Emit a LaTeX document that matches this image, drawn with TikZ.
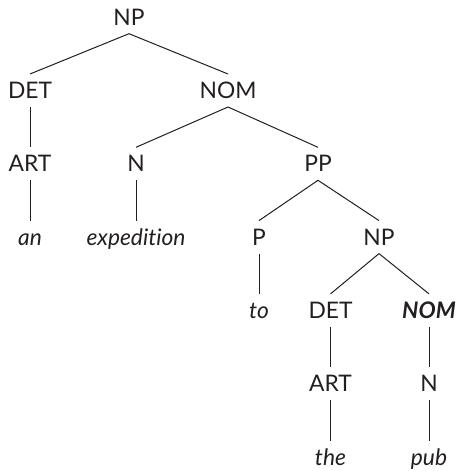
\documentclass[tikz,border=0pt]{standalone}
\usepackage{fontspec}
\setmainfont[Ligatures=NoCommon]{Lato}
\definecolor{ink}{HTML}{231F20}
\begin{document}
\begin{tikzpicture}[x=1pt,y=-1pt,
  lab/.style={inner sep=0pt,outer sep=0pt,text height=24.6pt,text depth=8.4pt,
    font=\fontsize{22.8}{26}\selectfont,text=ink},
  wd/.style={lab,font=\fontsize{22.8}{26}\selectfont\itshape},
  edge/.style={draw=ink,line width=1pt}]
\useasboundingbox (0,0) rectangle (457,471);
\def\ra{17.2}\def\rb{90.5}\def\rc{163.8}\def\rd{237.1}\def\re{310.4}\def\rf{383.7}\def\rg{457}
\node[lab] (np1) at (129,\ra) {NP};
\node[lab] (det1) at (30,\rb) {DET};
\node[lab] (nom1) at (228,\rb) {NOM};
\node[lab] (art1) at (30,\rc) {ART};
\node[lab] (n1) at (136,\rc) {N};
\node[lab] (pp) at (318,\rc) {PP};
\node[wd] (an) at (30,\rd) {an};
\node[wd] (exp) at (136,\rd) {expedition};
\node[lab] (p) at (259,\rd) {P};
\node[lab] (np2) at (379,\rd) {NP};
\node[wd] (to) at (259,\re) {to};
\node[lab] (det2) at (330.5,\re) {DET};
\node[lab,font=\fontsize{22.8}{26}\selectfont\bfseries\itshape] (nom2) at (429,\re) {NOM};
\node[lab] (art2) at (330.5,\rf) {ART};
\node[lab] (n2) at (429,\rf) {N};
\node[wd] (the) at (330.5,\rg) {the};
\node[wd] (pub) at (429,\rg) {pub};
\draw[edge] (np1.south) -- (det1.north);
\draw[edge] (np1.south) -- (nom1.north);
\draw[edge] (det1.south) -- (art1.north);
\draw[edge] (art1.south) -- (an.north);
\draw[edge] (nom1.south) -- (n1.north);
\draw[edge] (nom1.south) -- (pp.north);
\draw[edge] (n1.south) -- (exp.north);
\draw[edge] (pp.south) -- (p.north);
\draw[edge] (pp.south) -- (np2.north);
\draw[edge] (p.south) -- (to.north);
\draw[edge] (np2.south) -- (det2.north);
\draw[edge] (np2.south) -- (nom2.north);
\draw[edge] (det2.south) -- (art2.north);
\draw[edge] (art2.south) -- (the.north);
\draw[edge] (nom2.south) -- (n2.north);
\draw[edge] (n2.south) -- (pub.north);
\end{tikzpicture}
\end{document}
